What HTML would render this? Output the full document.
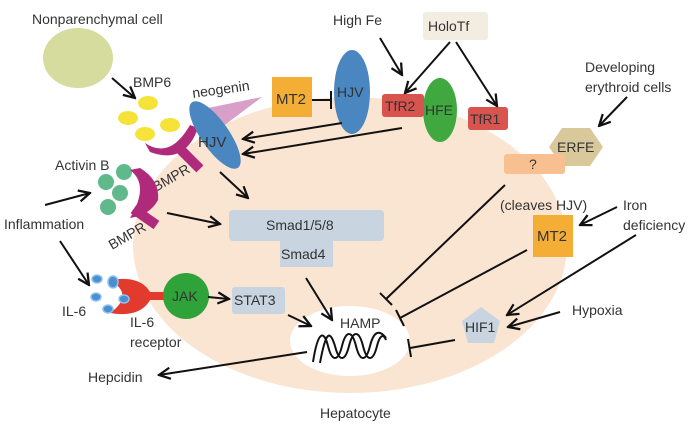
<!DOCTYPE html>
<html><head><style>
html,body{margin:0;padding:0;background:#fff;}
svg{display:block;font-family:"Liberation Sans",sans-serif;}
text{fill:#333;}
</style></head><body>
<svg width="700" height="430" viewBox="0 0 700 430">
<defs>
<marker id="a" viewBox="0 0 10 10" refX="9" refY="5" markerWidth="7" markerHeight="7" orient="auto"><path d="M1,1 L9,5 L1,9" fill="none" stroke="#111" stroke-width="1.6"/></marker>
</defs>
<ellipse cx="350" cy="245" rx="217" ry="148" fill="#fae4d2"/>
<ellipse cx="350" cy="341" rx="60" ry="35" fill="#fff"/>
<g font-size="14">
<text x="32" y="24">Nonparenchymal  cell</text>
<text x="133" y="87">BMP6</text>
<text x="193" y="98" transform="rotate(-8 193 98)">neogenin</text>
<text x="333" y="25">High Fe</text>
<text x="585" y="72">Developing</text>
<text x="585" y="92">erythroid cells</text>
<text x="55" y="170">Activin B</text>
<text x="4" y="229">Inflammation</text>
<text x="500" y="210">(cleaves HJV)</text>
<text x="623" y="210">Iron</text>
<text x="623" y="230">deficiency</text>
<text x="572" y="315">Hypoxia</text>
<text x="62" y="316">IL-6</text>
<text x="130" y="327">IL-6</text>
<text x="130" y="347">receptor</text>
<text x="88" y="382">Hepcidin</text>
<text x="320" y="418">Hepatocyte</text>
<text x="112" y="250" transform="rotate(-30 112 250)">BMPR</text>
<text x="156" y="192" transform="rotate(-30 156 192)">BMPR</text>
</g>
<ellipse cx="78" cy="58" rx="35" ry="30" fill="#d6dc9e"/>
<g fill="#f5e33a">
<ellipse cx="148" cy="103" rx="10" ry="7"/><ellipse cx="128" cy="118" rx="10" ry="7"/>
<ellipse cx="170" cy="125" rx="10" ry="7"/><ellipse cx="145" cy="134" rx="10" ry="7"/>
</g>
<polygon points="198,110 262,97 218,130" fill="#d8a0c8"/>
<path d="M145,143 Q170,160 190,125 L198,128 Q185,165 150,152 Z" fill="#b02a7c"/>
<rect x="185" y="145" width="10" height="28" fill="#b02a7c" transform="rotate(-45 190 159)"/>
<ellipse cx="215" cy="135" rx="14" ry="40" fill="#4a86bf" transform="rotate(-35 215 135)"/>
<text x="198" y="147" font-size="15">HJV</text>
<rect x="272" y="77" width="40" height="40" fill="#f5ae35"/>
<text x="276" y="104" font-size="15">MT2</text>
<ellipse cx="352" cy="92" rx="18" ry="42" fill="#4a86bf"/>
<text x="337" y="97" font-size="14">HJV</text>
<rect x="423" y="12" width="65" height="28" rx="3" fill="#f3ece0"/>
<text x="428" y="31" font-size="14">HoloTf</text>
<rect x="382" y="94" width="42" height="23" rx="3" fill="#d9534f"/>
<text x="385" y="111" font-size="14">TfR2</text>
<ellipse cx="440" cy="110" rx="17" ry="32" fill="#3fa83f"/>
<text x="425" y="115" font-size="14">HFE</text>
<rect x="468" y="107" width="40" height="23" rx="3" fill="#d9534f"/>
<text x="470" y="124" font-size="14">TfR1</text>
<polygon points="562,128 590,128 603,147 590,166 562,166 549,147" fill="#d8c89a"/>
<text x="557" y="152" font-size="14">ERFE</text>
<rect x="504" y="154" width="61" height="20" rx="3" fill="#f8c090"/>
<text x="529" y="169" font-size="14">?</text>
<rect x="533" y="215" width="40" height="42" fill="#f5ae35"/>
<text x="537" y="241" font-size="15">MT2</text>
<polygon points="481,307 500,321 494,343 468,343 462,321" fill="#c8d4e0"/>
<text x="465" y="332" font-size="14">HIF1</text>
<rect x="229" y="210" width="155" height="31" rx="4" fill="#c8d4e0"/>
<rect x="280" y="238" width="53" height="29" fill="#c8d4e0"/>
<text x="266" y="230" font-size="14">Smad1/5/8</text>
<text x="281" y="259" font-size="14">Smad4</text>
<g fill="#5fb98a"><circle cx="124" cy="172" r="8"/><circle cx="106" cy="182" r="8"/><circle cx="120" cy="193" r="8"/><circle cx="108" cy="207" r="8"/></g>
<path d="M130,170 Q150,185 130,218 Q150,215 158,200 Q160,180 140,168 Z" fill="#b02a7c"/>
<rect x="140" y="203" width="10" height="28" fill="#b02a7c" transform="rotate(-55 145 217)"/>
<path d="M110,280 Q135,295 110,313 Q140,318 150,300 L165,300 L165,292 L150,292 Q140,275 110,280 Z" fill="#e33a2e"/>
<g fill="#4a90d0" stroke="#8cc4ee" stroke-width="1.5"><ellipse cx="97" cy="279" rx="5" ry="4"/><ellipse cx="113" cy="282" rx="5" ry="6"/><ellipse cx="96" cy="297" rx="5" ry="4"/><ellipse cx="124" cy="299" rx="5" ry="4"/><ellipse cx="108" cy="309" rx="5" ry="4"/></g>
<circle cx="186" cy="296" r="23" fill="#2fa23a"/>
<text x="172" y="301" font-size="14">JAK</text>
<rect x="232" y="287" width="53" height="27" rx="3" fill="#c8d4e0"/>
<text x="234" y="305" font-size="14">STAT3</text>
<text x="340" y="328" font-size="14">HAMP</text>
<path d="M313,362 C318,330 324,330 328,346 C332,362 338,362 342,346 C346,330 352,330 356,346 C360,362 366,362 370,346 C374,330 380,330 386,338 M320,363 C326,330 330,330 335,346 C339,362 345,362 349,346 C353,330 359,330 363,346 C367,362 373,362 377,346 C380,334 384,334 386,340" fill="none" stroke="#111" stroke-width="2"/>
<g stroke="#111" stroke-width="2" fill="none" marker-end="url(#a)">
<line x1="112" y1="78" x2="135" y2="98"/>
<line x1="380" y1="38" x2="402" y2="75"/>
<line x1="450" y1="42" x2="405" y2="93"/>
<line x1="456" y1="42" x2="497" y2="106"/>
<line x1="342" y1="123" x2="243" y2="139"/>
<line x1="402" y1="128" x2="243" y2="154"/>
<line x1="627" y1="97" x2="599" y2="126"/>
<line x1="617" y1="207" x2="580" y2="225"/>
<line x1="636" y1="235" x2="507" y2="315"/>
<line x1="560" y1="312" x2="508" y2="327"/>
<line x1="45" y1="205" x2="90" y2="193"/>
<line x1="60" y1="241" x2="89" y2="285"/>
<line x1="167" y1="213" x2="220" y2="224"/>
<line x1="220" y1="172" x2="248" y2="198"/>
<line x1="208" y1="297" x2="229" y2="299"/>
<line x1="288" y1="315" x2="311" y2="326"/>
<line x1="306" y1="278" x2="332" y2="320"/>
<line x1="307" y1="352" x2="159" y2="375"/>
</g>
<g stroke="#111" stroke-width="2">
<line x1="312" y1="100" x2="331" y2="100"/><line x1="331" y1="91" x2="331" y2="109"/>
<line x1="505" y1="185" x2="386" y2="299"/><line x1="380" y1="293" x2="392" y2="305"/>
<line x1="527" y1="250" x2="400" y2="318"/><line x1="396" y1="310" x2="404" y2="326"/>
<line x1="455" y1="340" x2="410" y2="348"/><line x1="408" y1="339" x2="411" y2="357"/>
</g>
</svg>
</body></html>
